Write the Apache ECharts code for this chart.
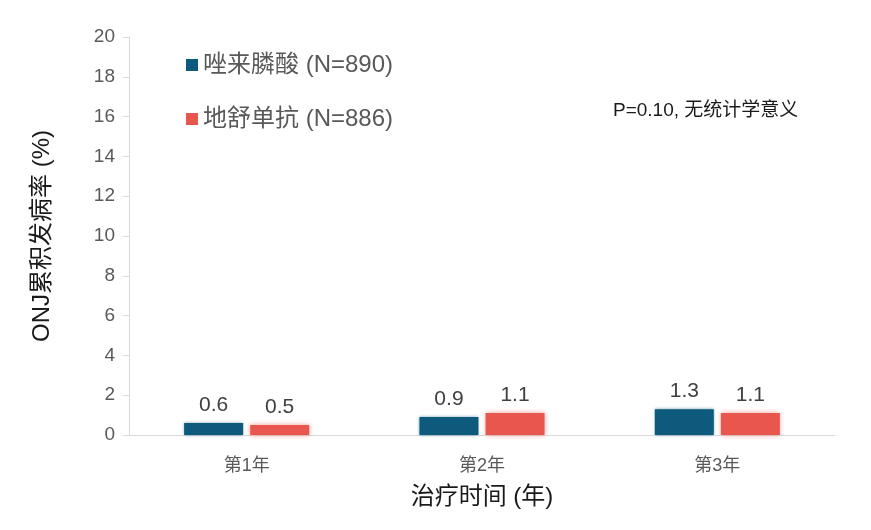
<!DOCTYPE html>
<html><head><meta charset="utf-8">
<script src="https://cdn.jsdelivr.net/npm/echarts@6/dist/echarts.min.js"></script>
<style>html,body{margin:0;padding:0;background:#fff}#c{width:871px;height:530px}</style>
</head><body><div id="c"></div>
<script>
const categories = ['第1年', '第2年', '第3年'];
const seriesNames = ['唑来膦酸 (N=890)', '地舒单抗 (N=886)'];
const zoledronic = [0.6, 0.9, 1.3];
const denosumab = [0.5, 1.1, 1.1];
const yTicks = [0, 2, 4, 6, 8, 10, 12, 14, 16, 18, 20];
const note = 'P=0.10, 无统计学意义';

const font = 'Arial, "Liberation Sans", "Noto Sans CJK SC", sans-serif';
const chart = echarts.init(document.getElementById('c'));
chart.setOption({
  animation: false,
  textStyle: { fontFamily: font },
  grid: { left: 129, right: 36, top: 37, bottom: 95 },
  legend: {
    left: 181, top: 48, orient: 'vertical', itemGap: 30,
    itemWidth: 12, itemHeight: 12, icon: 'rect',
    textStyle: { fontSize: 24, color: '#595959', fontFamily: font },
    data: seriesNames
  },
  graphic: [{
    type: 'text', left: 613, top: 101,
    style: { text: note, font: '19px ' + font, fill: '#1a1a1a' }
  }],
  xAxis: {
    type: 'category', data: categories,
    name: '治疗时间 (年)', nameLocation: 'middle', nameGap: 50,
    nameTextStyle: { fontSize: 24, color: '#1a1a1a', fontFamily: font },
    axisLine: { lineStyle: { color: '#d9d9d9' } },
    axisTick: { show: false },
    axisLabel: { fontSize: 18, color: '#595959', margin: 22 }
  },
  yAxis: {
    type: 'value', min: yTicks[0], max: yTicks[yTicks.length - 1], interval: 2,
    name: 'ONJ累积发病率 (%)', nameLocation: 'middle', nameGap: 75,
    nameTextStyle: { fontSize: 24, color: '#1a1a1a', fontFamily: font },
    axisLine: { show: true, lineStyle: { color: '#d9d9d9' } },
    axisTick: { show: true, length: 6, lineStyle: { color: '#d9d9d9' } },
    splitLine: { show: false },
    axisLabel: { fontSize: 19, color: '#595959', margin: 14 }
  },
  series: [
    {
      name: seriesNames[0], type: 'bar', data: zoledronic,
      barWidth: 59, barGap: '12%',
      itemStyle: { color: '#0E5A7C', shadowBlur: 3, shadowColor: 'rgba(14,90,124,0.6)' },
      label: { show: true, position: 'top', distance: 7, fontSize: 21, color: '#404040' }
    },
    {
      name: seriesNames[1], type: 'bar', data: denosumab,
      barWidth: 59,
      itemStyle: { color: '#E8564E', shadowBlur: 5, shadowColor: 'rgba(232,86,78,0.6)' },
      label: { show: true, position: 'top', distance: 7, fontSize: 21, color: '#404040' }
    }
  ]
});
</script></body></html>
